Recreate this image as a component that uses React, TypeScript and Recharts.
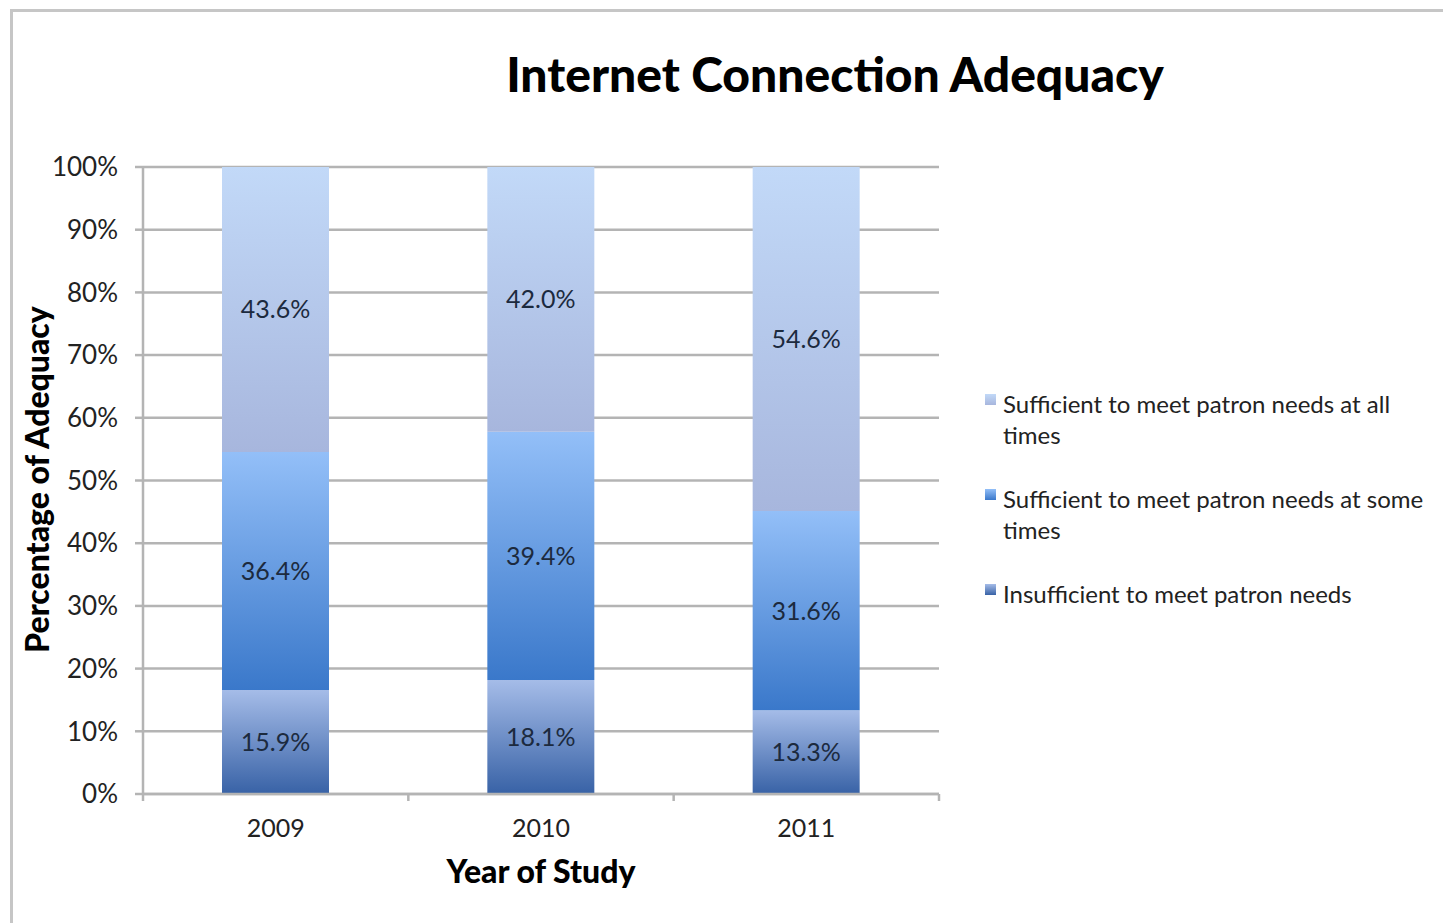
import { BarChart, Bar, XAxis, YAxis, CartesianGrid, Legend, LabelList } from 'recharts'

const years = ['2009', '2010', '2011']
const insufficient = [15.9, 18.1, 13.3]
const someTimes = [36.4, 39.4, 31.6]
const allTimes = [43.6, 42.0, 54.6]
const yTicks = [0, 0.1, 0.2, 0.3, 0.4, 0.5, 0.6, 0.7, 0.8, 0.9, 1]

const seriesNames = {
  insufficient: 'Insufficient to meet patron needs',
  some: 'Sufficient to meet patron needs at some times',
  all: 'Sufficient to meet patron needs at all times',
}
// legend reads top series first
const legendOrder = ['all', 'some', 'insufficient']

const data = years.map((year, i) => ({
  year,
  insufficient: insufficient[i],
  some: someTimes[i],
  all: allTimes[i],
}))

const FONT = 'Lato, "DejaVu Sans", sans-serif'
const GRID = '#b4b4b4'
const X_GAP = 25
const pct = (v: any) => `${Number(v).toFixed(1)}%`

// category label plus tick marks on the category boundaries (Keynote style)
function YearTick({ x, y, payload, index, visibleTicksCount }: any) {
  const half = payload?.offset ?? 0
  const axisY = y - X_GAP
  return (
    <g>
      <line x1={x - half} x2={x - half} y1={axisY} y2={axisY + 7} stroke={GRID} strokeWidth={2.5} />
      {index === visibleTicksCount - 1 && (
        <line x1={x + half} x2={x + half} y1={axisY} y2={axisY + 7} stroke={GRID} strokeWidth={2.5} />
      )}
      <text x={x} y={y} dy="0.71em" textAnchor="middle" fontFamily={FONT} fontSize={25} fill="#222">
        {payload.value}
      </text>
    </g>
  )
}

function LegendBox({ payload }: any) {
  const items = [...(payload || [])].sort(
    (a: any, b: any) => legendOrder.indexOf(a.dataKey) - legendOrder.indexOf(b.dataKey)
  )
  return (
    <div style={{ fontFamily: FONT, fontSize: 24, color: '#222', width: 450, lineHeight: '31px' }}>
      {items.map((p: any) => (
        <div key={p.value} style={{ position: 'relative', paddingLeft: 18, width: 432, marginBottom: 33 }}>
          <svg width={11} height={11} style={{ position: 'absolute', left: 0, top: 6 }}>
            <rect width={11} height={11} fill={p.color} />
          </svg>
          {p.value}
        </div>
      ))}
    </div>
  )
}

export default function App() {
  return (
    <div style={{ position: 'absolute', left: 0, top: 0, width: 1443, height: 923, background: '#fff', overflow: 'hidden' }}>
      <div style={{ position: 'absolute', left: 10, top: 9, width: 1440, height: 920, borderTop: '3px solid #c6c6c6', borderLeft: '3px solid #c6c6c6' }} />
      <div style={{ position: 'absolute', left: 335, width: 1000, top: 45, textAlign: 'center', fontFamily: FONT, fontWeight: 900, fontSize: 48, color: '#000' }}>
        Internet Connection Adequacy
      </div>
      <div style={{ position: 'absolute', left: 341, width: 400, top: 851, textAlign: 'center', fontFamily: FONT, fontWeight: 900, fontSize: 32, color: '#000' }}>
        Year of Study
      </div>
      <div style={{ position: 'absolute', left: 36 - 250, width: 500, top: 480 - 20, textAlign: 'center', fontFamily: FONT, fontWeight: 900, fontSize: 32, color: '#000', transform: 'rotate(-90deg)' }}>
        Percentage of Adequacy
      </div>
      <div style={{ position: 'absolute', left: 0, top: 0 }}>
        <BarChart
          width={1443}
          height={923}
          data={data}
          stackOffset="expand"
          margin={{ top: 167, right: 504, bottom: 69, left: 53 }}
        >
          <defs>
            <linearGradient id="gradAll" x1="0" y1="0" x2="0" y2="1">
              <stop offset="0%" stopColor="#c2d9f8" />
              <stop offset="100%" stopColor="#a7b6dd" />
            </linearGradient>
            <linearGradient id="gradSome" x1="0" y1="0" x2="0" y2="1">
              <stop offset="0%" stopColor="#93bff8" />
              <stop offset="100%" stopColor="#3a78ca" />
            </linearGradient>
            <linearGradient id="gradInsuf" x1="0" y1="0" x2="0" y2="1">
              <stop offset="0%" stopColor="#a5bce8" />
              <stop offset="100%" stopColor="#3862a6" />
            </linearGradient>
          </defs>
          <CartesianGrid vertical={false} stroke={GRID} strokeWidth={2.5} />
          <XAxis
            dataKey="year"
            tickLine={false}
            tickSize={0}
            tickMargin={X_GAP}
            axisLine={{ stroke: GRID, strokeWidth: 2.5 }}
            height={60}
            tick={<YearTick />}
          />
          <YAxis
            ticks={yTicks}
            domain={[0, 1]}
            width={90}
            tickSize={8}
            tickMargin={17}
            tickFormatter={(v: number) => `${Math.round(v * 100)}%`}
            axisLine={{ stroke: GRID, strokeWidth: 2.5 }}
            tickLine={{ stroke: GRID, strokeWidth: 2.5 }}
            tick={{ fontFamily: FONT, fontSize: 26, fill: '#222' }}
          />
          <Legend
            layout="vertical"
            align="center"
            verticalAlign="middle"
            wrapperStyle={{ position: 'absolute', left: 985, top: 388, width: 450 }}
            content={<LegendBox />}
          />
          <Bar dataKey="insufficient" name={seriesNames.insufficient} stackId="a" fill="url(#gradInsuf)" barSize={107} isAnimationActive={false}>
            <LabelList dataKey="insufficient" position="center" formatter={pct} style={{ fontFamily: FONT, fontSize: 25, fill: '#1c2a3e' }} />
          </Bar>
          <Bar dataKey="some" name={seriesNames.some} stackId="a" fill="url(#gradSome)" barSize={107} isAnimationActive={false}>
            <LabelList dataKey="some" position="center" formatter={pct} style={{ fontFamily: FONT, fontSize: 25, fill: '#1c2a3e' }} />
          </Bar>
          <Bar dataKey="all" name={seriesNames.all} stackId="a" fill="url(#gradAll)" barSize={107} isAnimationActive={false}>
            <LabelList dataKey="all" position="center" formatter={pct} style={{ fontFamily: FONT, fontSize: 25, fill: '#1c2a3e' }} />
          </Bar>
        </BarChart>
      </div>
    </div>
  )
}
